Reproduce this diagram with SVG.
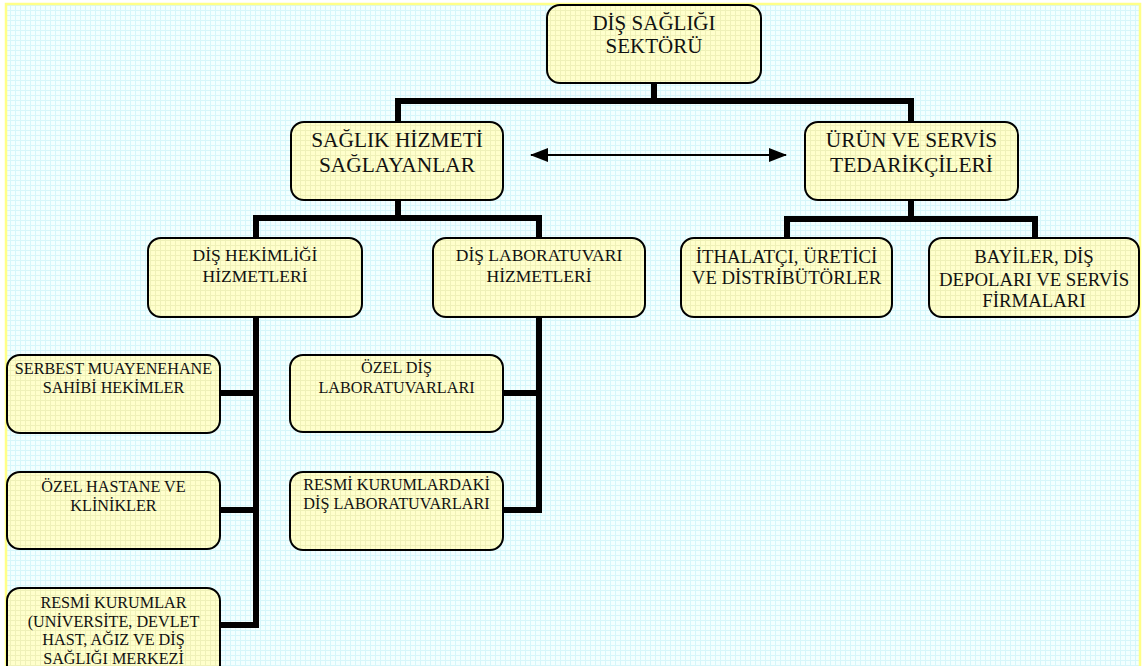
<svg xmlns="http://www.w3.org/2000/svg" width="1142" height="666" viewBox="0 0 1142 666">
  <defs>
    <pattern id="gridBg" width="5" height="5" patternUnits="userSpaceOnUse">
      <rect width="5" height="5" fill="#f2ffff"/>
      <path d="M0 0.5H5M0.5 0V5" stroke="#d6f6fa" stroke-width="1"/>
    </pattern>
    <pattern id="gridBox" width="5" height="5" patternUnits="userSpaceOnUse">
      <rect width="5" height="5" fill="#ffffcc"/>
      <path d="M0 0.5H5M0.5 0V5" stroke="#eff1b8" stroke-width="1"/>
    </pattern>
    <marker id="arrowHead" viewBox="0 0 18 14" refX="17" refY="7" markerWidth="18" markerHeight="14" markerUnits="userSpaceOnUse" orient="auto-start-reverse">
      <path d="M0 0L18 7L0 14Z" fill="#000"/>
    </marker>
  </defs>
  <style>
    .box { fill: url(#gridBox); stroke: #000; stroke-width: 2; }
    .t { font-family: "Liberation Serif", "Times New Roman", serif; fill: #111; text-anchor: middle; }
    .t1 { font-size: 21px; }
    .t2 { font-size: 21.4px; }
    .t3 { font-size: 17.5px; }
    .t3b { font-size: 18.8px; }
    .t4 { font-size: 16.2px; }
    .link { fill: none; stroke: #000; stroke-width: 6; stroke-linecap: butt; stroke-linejoin: miter; }
    .bidir { stroke: #000; stroke-width: 2; fill: none; }
  </style>

  <!-- page background with grid and frame -->
  <rect x="0" y="0" width="1142" height="666" fill="#ffffff"/>
  <rect x="6" y="4" width="1134" height="670" fill="url(#gridBg)" stroke="#ffff88" stroke-width="2.5"/>

  <!-- connectors -->
  <g id="connectors">
    <path class="link" d="M654 83V101M398 101H911M398 98V122M911 98V122"/>
    <path class="link" d="M398 200V218M256 218H539M256 215V238M539 215V238"/>
    <path class="link" d="M911 200V219M787 219H1035M787 216V238M1035 216V238"/>
    <path class="link" d="M256 317V628M220 393H256M220 510H256M220 625H256"/>
    <path class="link" d="M539 317V513M503 393H539M503 510H539"/>
    <line class="bidir" x1="531" y1="155" x2="786" y2="155" marker-start="url(#arrowHead)" marker-end="url(#arrowHead)"/>
  </g>

  <g id="node-sector">
    <rect class="box" x="547" y="5" width="214" height="78" rx="13"/>
    <text class="t t1" x="654" y="30">DİŞ SAĞLIĞI</text>
    <text class="t t1" x="654" y="53">SEKTÖRÜ</text>
  </g>

  <g id="node-providers">
    <rect class="box" x="291" y="122" width="212" height="78" rx="13"/>
    <text class="t t2" x="397" y="147">SAĞLIK HİZMETİ</text>
    <text class="t t2" x="397" y="172">SAĞLAYANLAR</text>
  </g>

  <g id="node-suppliers">
    <rect class="box" x="805" y="122" width="213" height="78" rx="13"/>
    <text class="t t2" x="911.5" y="147">ÜRÜN VE SERVİS</text>
    <text class="t t2" x="911.5" y="172">TEDARİKÇİLERİ</text>
  </g>

  <g id="node-dentistry">
    <rect class="box" x="148" y="238" width="214" height="79" rx="13"/>
    <text class="t t3" x="255" y="261">DİŞ HEKİMLİĞİ</text>
    <text class="t t3" x="255" y="282">HİZMETLERİ</text>
  </g>

  <g id="node-lab">
    <rect class="box" x="433" y="238" width="212" height="79" rx="13"/>
    <text class="t t3" x="539" y="261">DİŞ LABORATUVARI</text>
    <text class="t t3" x="539" y="282">HİZMETLERİ</text>
  </g>

  <g id="node-importers">
    <rect class="box" x="681" y="238" width="211" height="79" rx="13"/>
    <text class="t t3b" x="786.5" y="263">İTHALATÇI, ÜRETİCİ</text>
    <text class="t t3b" x="786.5" y="284">VE DİSTRİBÜTÖRLER</text>
  </g>

  <g id="node-dealers">
    <rect class="box" x="929" y="238" width="210" height="79" rx="13"/>
    <text class="t t3b" x="1034" y="263">BAYİLER, DİŞ</text>
    <text class="t t3b" x="1034" y="286">DEPOLARI VE SERVİS</text>
    <text class="t t3b" x="1034" y="307">FİRMALARI</text>
  </g>

  <g id="node-private-practice">
    <rect class="box" x="7" y="355" width="213" height="78" rx="13"/>
    <text class="t t4" x="113.5" y="374">SERBEST MUAYENEHANE</text>
    <text class="t t4" x="113.5" y="393">SAHİBİ HEKİMLER</text>
  </g>

  <g id="node-private-hospitals">
    <rect class="box" x="7" y="472" width="213" height="77" rx="13"/>
    <text class="t t4" x="113.5" y="492">ÖZEL HASTANE VE</text>
    <text class="t t4" x="113.5" y="511">KLİNİKLER</text>
  </g>

  <g id="node-public-institutions">
    <rect class="box" x="7" y="588" width="213" height="90" rx="13"/>
    <text class="t t4" x="113.5" y="608">RESMİ KURUMLAR</text>
    <text class="t t4" x="113.5" y="627">(UNİVERSİTE, DEVLET</text>
    <text class="t t4" x="113.5" y="645">HAST, AĞIZ VE DİŞ</text>
    <text class="t t4" x="113.5" y="664">SAĞLIĞI MERKEZİ</text>
  </g>

  <g id="node-private-labs">
    <rect class="box" x="290" y="355" width="213" height="77" rx="13"/>
    <text class="t t4" x="396.5" y="373">ÖZEL DİŞ</text>
    <text class="t t4" x="396.5" y="393">LABORATUVARLARI</text>
  </g>

  <g id="node-public-labs">
    <rect class="box" x="290" y="472" width="213" height="78" rx="13"/>
    <text class="t t4" x="396.5" y="490">RESMİ KURUMLARDAKİ</text>
    <text class="t t4" x="396.5" y="509">DİŞ LABORATUVARLARI</text>
  </g>
</svg>
